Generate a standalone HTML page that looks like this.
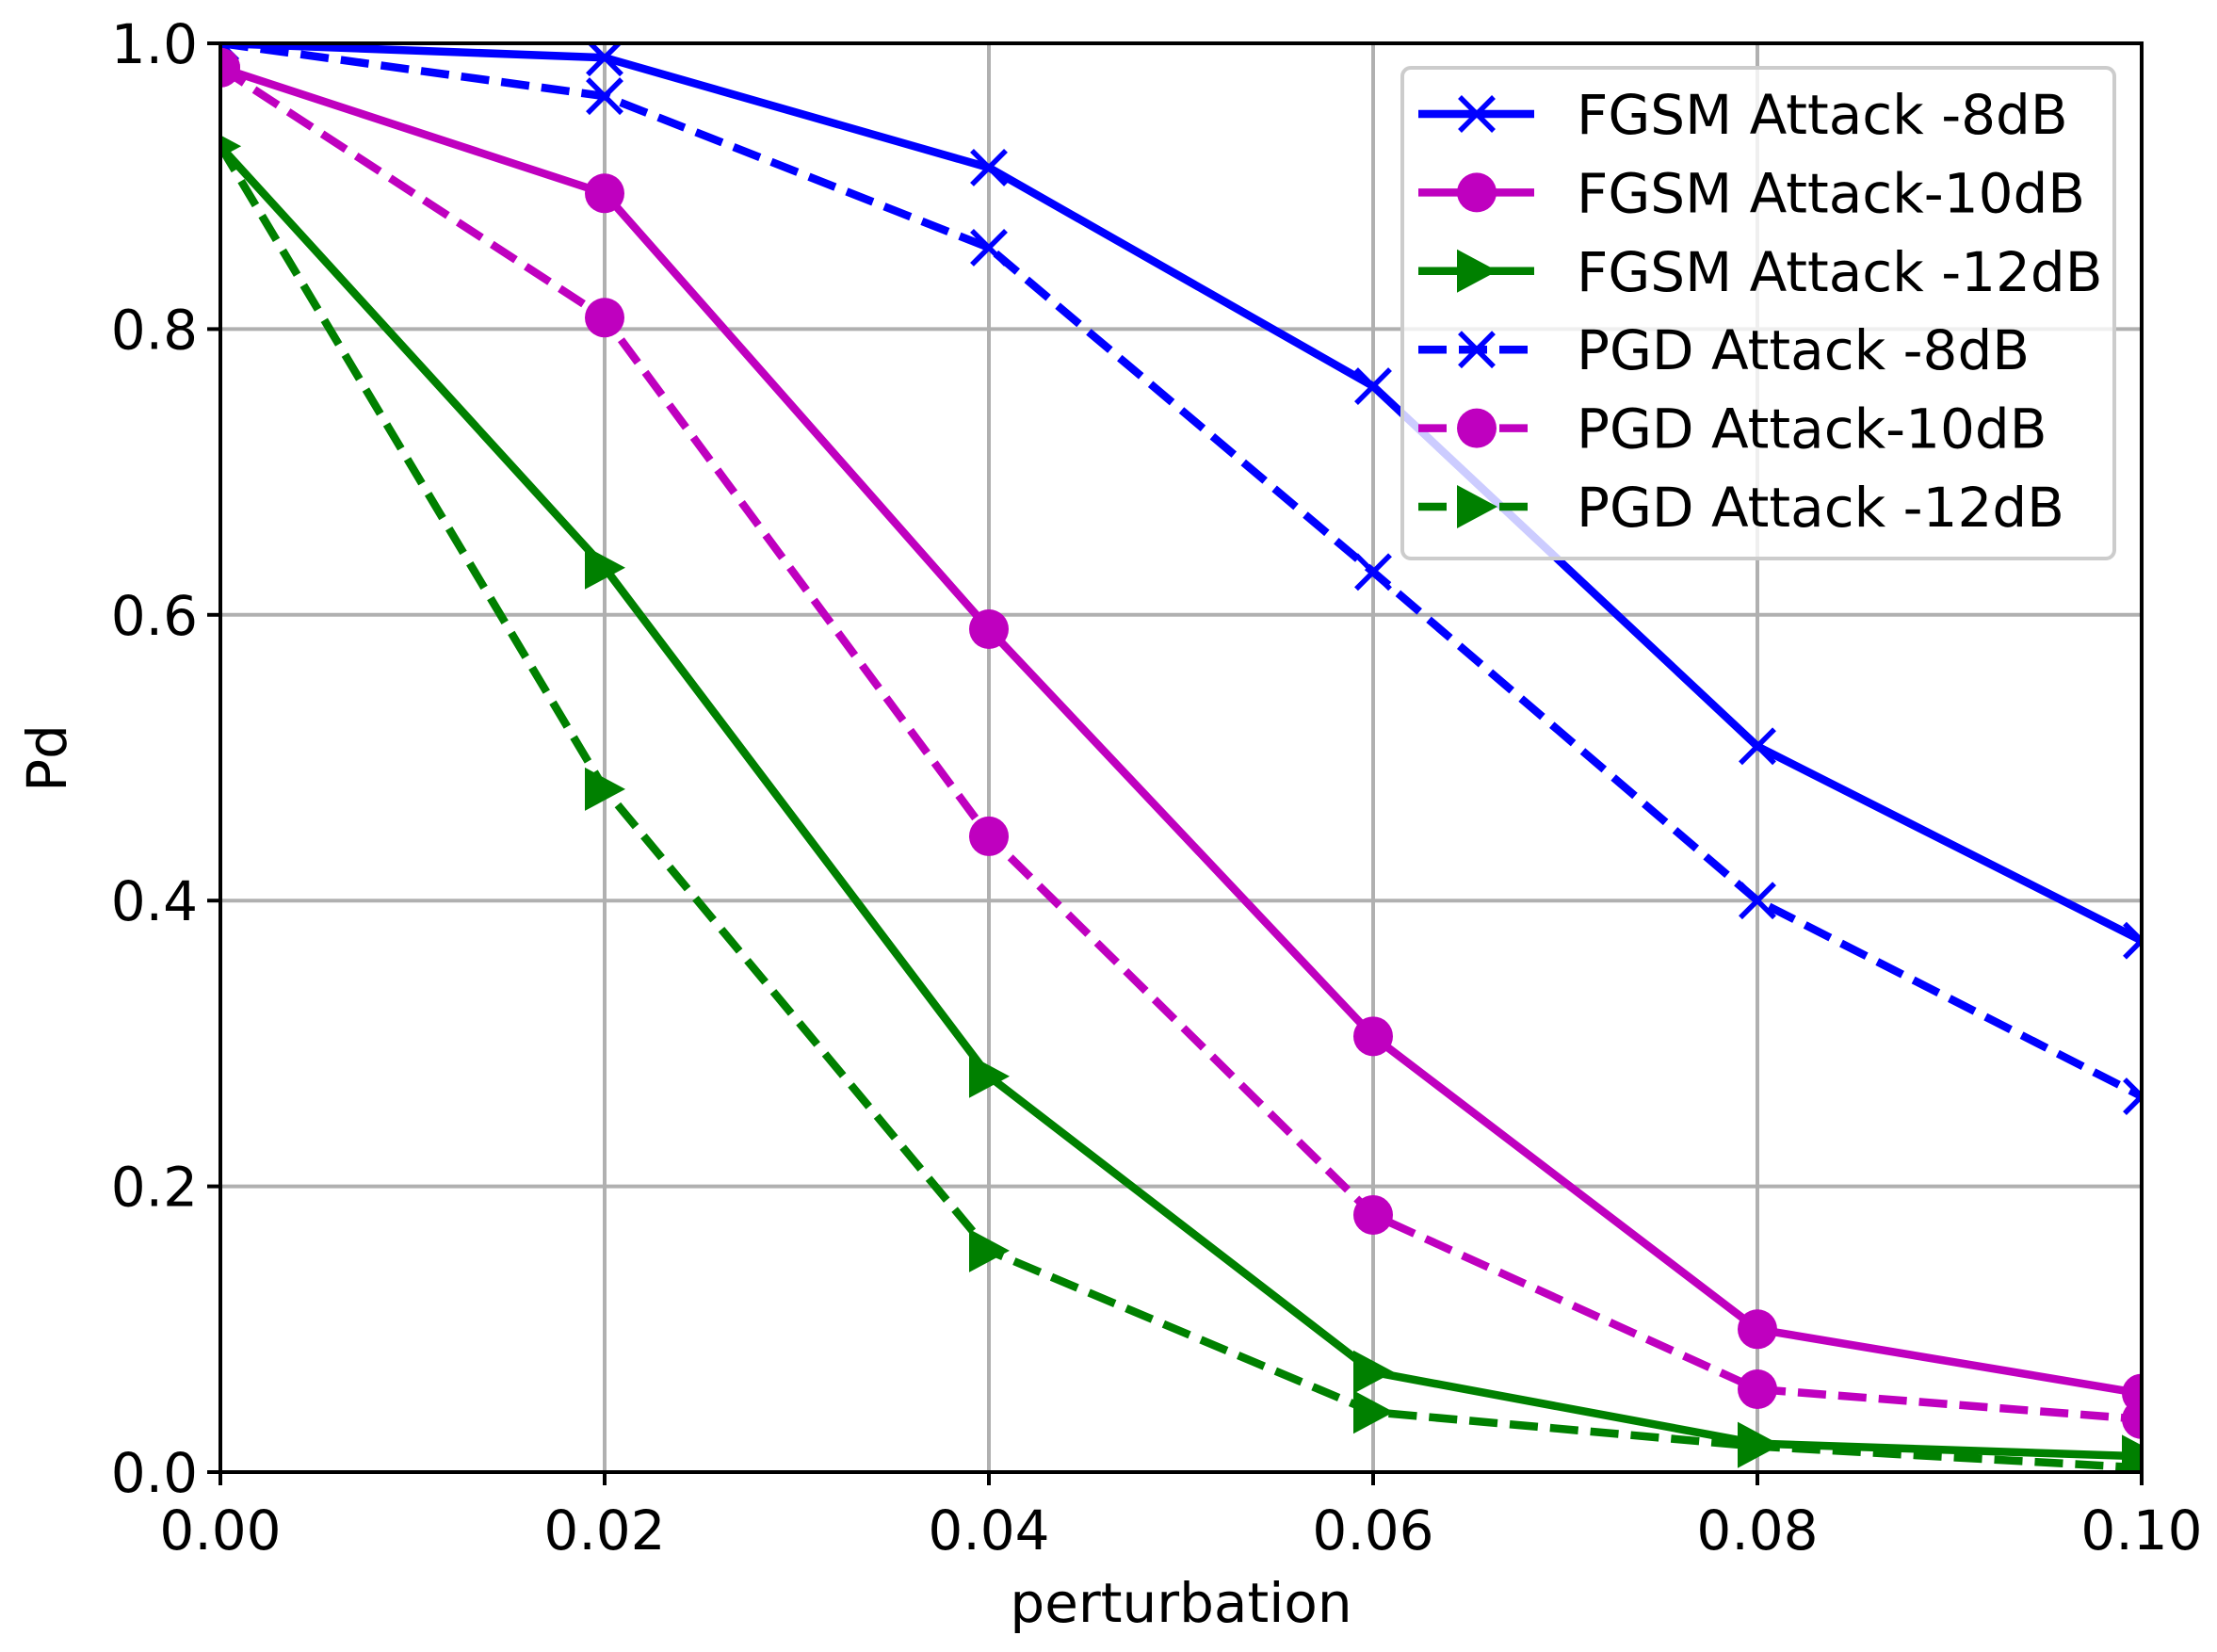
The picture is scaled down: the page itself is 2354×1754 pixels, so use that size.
<!DOCTYPE html>
<html><head><meta charset="utf-8"><style>
html,body{margin:0;padding:0;background:#fff;}
svg{display:block;font-family:"DejaVu Sans","Liberation Sans",sans-serif;}
</style></head><body>
<svg id="s" width="2354" height="1754" viewBox="0 0 2354 1754" xmlns="http://www.w3.org/2000/svg">
<rect width="2354" height="1754" fill="#fff"/>
<g id="grid" stroke="#b0b0b0" stroke-width="4"></g>
<g id="series"></g>
<g id="axes"></g>
<g id="legend"></g>
<text x="1254" y="1722" font-size="58" text-anchor="middle">perturbation</text>
<text x="0" y="0" font-size="58" text-anchor="middle" transform="translate(70,805) rotate(-90)">Pd</text>
</svg>
<script>
var L=234,R=2274,T=46,B=1563,NS="http://www.w3.org/2000/svg";
function X(v){return L+v/0.1*(R-L);}
function Y(v){return B-v*(B-T);}
function el(p,t,a,txt){var e=document.createElementNS(NS,t);for(var k in a)e.setAttribute(k,a[k]);if(txt!==undefined)e.textContent=txt;p.appendChild(e);return e;}
var g=document.getElementById('grid'),ax=document.getElementById('axes'),sr=document.getElementById('series'),lg=document.getElementById('legend');
var xs=[0,0.02,0.04,0.06,0.08,0.1];
for(var i=0;i<6;i++){var x=X(xs[i]);el(g,'line',{x1:x,y1:T,x2:x,y2:B});
 el(ax,'line',{x1:x,y1:B,x2:x,y2:B+14,stroke:'#000','stroke-width':4});
 el(ax,'text',{x:x,y:1645,'font-size':58,'text-anchor':'middle'},xs[i].toFixed(2));
 var yv=i*0.2,y=Y(yv);el(g,'line',{x1:L,y1:y,x2:R,y2:y});
 el(ax,'line',{x1:L-14,y1:y,x2:L,y2:y,stroke:'#000','stroke-width':4});
 el(ax,'text',{x:L-24,y:y+21,'font-size':58,'text-anchor':'end'},yv.toFixed(1));}
el(ax,'rect',{x:L,y:T,width:R-L,height:B-T,fill:'none',stroke:'#000','stroke-width':4});
var S=[
 ['FGSM Attack -8dB','#0000ff','x',0,[1.0,0.99,0.913,0.76,0.508,0.372]],
 ['FGSM Attack-10dB','#bf00bf','o',0,[0.983,0.895,0.59,0.305,0.1,0.055]],
 ['FGSM Attack -12dB','#008000','>',0,[0.928,0.633,0.277,0.07,0.02,0.011]],
 ['PGD Attack -8dB','#0000ff','x',1,[1.0,0.963,0.857,0.63,0.4,0.263]],
 ['PGD Attack-10dB','#bf00bf','o',1,[0.983,0.808,0.445,0.18,0.058,0.037]],
 ['PGD Attack -12dB','#008000','>',1,[0.928,0.478,0.155,0.042,0.018,0.003]]];
function mark(p,m,c,x,y){
 if(m=='x'){el(p,'path',{d:'M'+(x-18)+' '+(y-18)+'L'+(x+18)+' '+(y+18)+'M'+(x-18)+' '+(y+18)+'L'+(x+18)+' '+(y-18),stroke:c,'stroke-width':5.5,fill:'none'});}
 else if(m=='o'){el(p,'circle',{cx:x,cy:y,r:21,fill:c});}
 else{el(p,'polygon',{points:(x-21)+','+(y-23)+' '+(x+22)+','+y+' '+(x-21)+','+(y+23),fill:c});}}
var cl=el(sr,'clipPath',{id:'c'});el(cl,'rect',{x:L,y:T,width:R-L,height:B-T});
var sg=el(sr,'g',{'clip-path':'url(#c)'});
S.forEach(function(s){var pts=s[4].map(function(v,i){return X(xs[i])+','+Y(v);}).join(' ');
 var a={points:pts,fill:'none',stroke:s[1],'stroke-width':8.5,'stroke-linejoin':'round'};
 if(s[3])a['stroke-dasharray']='30,13';el(sg,'polyline',a);
 s[4].forEach(function(v,i){mark(sg,s[2],s[1],X(xs[i]),Y(v));});});
el(lg,'rect',{x:1489,y:72,width:756,height:521,rx:9,fill:'#fff','fill-opacity':0.8,stroke:'#cccccc','stroke-width':4});
S.forEach(function(s,i){var y=121+i*83.4;
 var a={x1:1506,y1:y,x2:1629,y2:y,stroke:s[1],'stroke-width':8.5};
 if(s[3])a['stroke-dasharray']='30,13';el(lg,'line',a);
 mark(lg,s[2],s[1],1568,y);
 el(lg,'text',{x:1674,y:y+21,'font-size':58},s[0]);});
</script>
</body></html>
